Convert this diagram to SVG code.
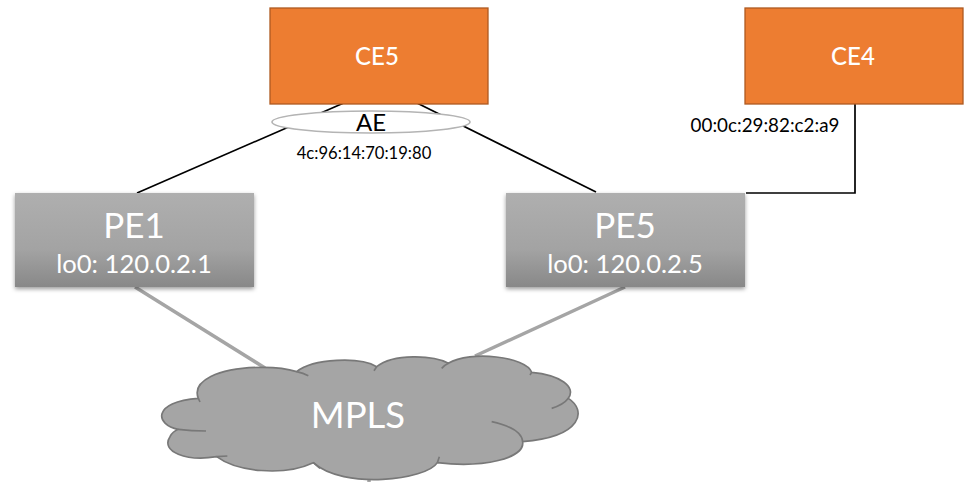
<svg xmlns="http://www.w3.org/2000/svg" width="975" height="482" viewBox="0 0 975 482">
<style>
text{font-family:"Lato","Open Sans","Liberation Sans",sans-serif;text-anchor:middle}
.ce{fill:#ed7d31;stroke:#ae5a21;stroke-width:1.3}
.pe{fill:url(#g);filter:url(#s)}
.w{fill:#fff}
.k{fill:#000}
.bl{fill:none;stroke:#000;stroke-width:1.7}
.gr{fill:none;stroke:#a5a5a5;stroke-width:3.5}
</style>
<defs>
<linearGradient id="g" x1="0" y1="0" x2="0" y2="1"><stop offset="0" stop-color="#afafaf"/><stop offset="0.6" stop-color="#a3a3a3"/><stop offset="1" stop-color="#888"/></linearGradient>
<filter id="s" x="-5%" y="-5%" width="110%" height="115%"><feDropShadow dx="0" dy="2" stdDeviation="2" flood-color="#000" flood-opacity="0.4"/></filter>
</defs>
<g id="connectors">
<path class="bl" d="M346 102L137 193"/>
<path class="bl" d="M417 103L596 192"/>
<path class="bl" d="M855 104V193H746"/>
<path class="gr" d="M135 287L265 368"/>
<path class="gr" d="M625 287L475 356"/>
<path class="gr" d="M369 476V482"/>
</g>
<g id="CE5"><rect class="ce" x="270" y="8" width="218" height="96"/><text class="w" x="377" y="65" font-size="24" font-weight="500">CE5</text></g>
<g id="CE4"><rect class="ce" x="745" y="8" width="218" height="96"/><text class="w" x="853" y="65" font-size="24" font-weight="500">CE4</text></g>
<g id="AE"><ellipse cx="371" cy="122" rx="99" ry="11" fill="#fff" stroke="#b4b4b4" stroke-width="1.7"/><text class="k" x="371" y="131" font-size="24">AE</text></g>
<text class="k" x="364" y="159" font-size="16.6">4c:96:14:70:19:80</text>
<text class="k" x="765" y="132" font-size="18.8">00:0c:29:82:c2:a9</text>
<g id="PE1"><rect class="pe" x="15" y="193" width="239" height="94"/><text class="w" x="134" y="238" font-size="35">PE1</text><text class="w" x="134" y="273" font-size="25.6">lo0: 120.0.2.1</text></g>
<g id="PE5"><rect class="pe" x="506" y="193" width="239" height="94"/><text class="w" x="625" y="238" font-size="35">PE5</text><text class="w" x="625" y="273" font-size="25.6">lo0: 120.0.2.5</text></g>
<g id="MPLS">
<g transform="translate(150 340) scale(.33333)" fill="none" stroke="#787878" stroke-width="5">
<path fill="#a5a5a5" stroke-linejoin="round" d="M145 175C125 125 200 82 340 82C380 82 415 87 440 95C490 55 630 50 680 80C730 40 850 45 895 70C960 30 1130 50 1145 97C1230 105 1280 140 1255 175C1310 210 1300 290 1118 305C1125 355 1000 385 862 368C830 420 580 450 490 368C400 410 260 395 200 350C110 365 30 335 60 290C65 280 75 272 85 268C15 255 5 185 145 175Z"/>
<path d="M440 95Q460 100 475 107M680 80L672 92M895 70Q885 75 875 85M1145 97L1140 105M1255 175Q1240 195 1205 205M1025 245Q1115 265 1118 305M868 350L862 368M490 368L510 385M200 350L232 348M85 268Q125 273 168 273M145 175L150 186"/>
</g>
<text class="w" x="358" y="428" font-size="36.5">MPLS</text>
</g>
</svg>
